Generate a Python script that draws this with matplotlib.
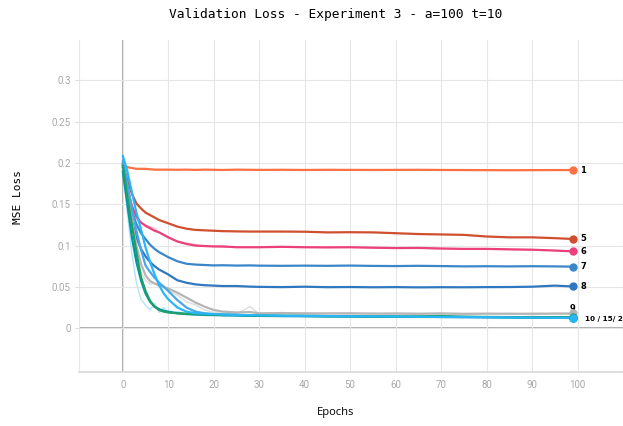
import matplotlib
matplotlib.use("Agg")
import matplotlib.pyplot as plt

# epochs at which the curves are sampled
epochs = [0, 1, 2, 3, 4, 5, 6, 7, 8, 9, 10, 12, 14, 16, 18, 20, 22, 25, 28, 30,
          35, 40, 45, 50, 55, 60, 65, 70, 75, 80, 85, 90, 95, 99]

run1 = [0.197, 0.195, 0.194, 0.193, 0.193, 0.193, 0.1925, 0.192, 0.192, 0.192, 0.192, 0.1918,
        0.192, 0.1917, 0.192, 0.1918, 0.1916, 0.192, 0.1918, 0.1917, 0.1918, 0.1916, 0.1918,
        0.1917, 0.1916, 0.1917, 0.1918, 0.1916, 0.1915, 0.1914, 0.1913, 0.1914, 0.1915, 0.1915]
run5 = [0.198, 0.180, 0.163, 0.151, 0.145, 0.140, 0.137, 0.134, 0.131, 0.129, 0.127, 0.123,
        0.1205, 0.119, 0.1185, 0.118, 0.1175, 0.1172, 0.117, 0.117, 0.117, 0.1168, 0.116, 0.1162,
        0.116, 0.115, 0.114, 0.1135, 0.113, 0.111, 0.110, 0.110, 0.109, 0.108]
run6 = [0.200, 0.170, 0.148, 0.135, 0.128, 0.124, 0.121, 0.118, 0.116, 0.113, 0.110, 0.105,
        0.102, 0.100, 0.0995, 0.099, 0.099, 0.098, 0.098, 0.098, 0.0985, 0.098, 0.0978, 0.098,
        0.0975, 0.097, 0.0972, 0.0965, 0.096, 0.096, 0.0955, 0.095, 0.094, 0.093]
run7 = [0.200, 0.168, 0.142, 0.126, 0.115, 0.108, 0.101, 0.096, 0.092, 0.089, 0.086, 0.081,
        0.078, 0.077, 0.0765, 0.076, 0.0762, 0.0758, 0.076, 0.0757, 0.0755, 0.0757, 0.0755,
        0.0758, 0.0754, 0.0752, 0.0755, 0.0752, 0.0748, 0.075, 0.0748, 0.075, 0.0748, 0.0745]
run8 = [0.195, 0.160, 0.130, 0.110, 0.096, 0.087, 0.080, 0.075, 0.071, 0.068, 0.065, 0.058,
        0.055, 0.053, 0.052, 0.0515, 0.051, 0.051, 0.0503, 0.050, 0.0497, 0.0502, 0.0496, 0.0498,
        0.0495, 0.0497, 0.0494, 0.0496, 0.0495, 0.0497, 0.0498, 0.0502, 0.0515, 0.0505]
run9 = [0.198, 0.165, 0.130, 0.100, 0.078, 0.064, 0.057, 0.054, 0.052, 0.050, 0.048, 0.043,
        0.037, 0.031, 0.026, 0.022, 0.020, 0.019, 0.0195, 0.018, 0.0182, 0.018, 0.0178, 0.018,
        0.0176, 0.0178, 0.0175, 0.0178, 0.0174, 0.0176, 0.0174, 0.0175, 0.0176, 0.0178]
run10 = [0.190, 0.150, 0.110, 0.080, 0.058, 0.042, 0.032, 0.026, 0.023, 0.021, 0.020, 0.018,
         0.017, 0.0165, 0.016, 0.0158, 0.0155, 0.0152, 0.015, 0.0148, 0.0146, 0.0145, 0.0143,
         0.0142, 0.014, 0.0138, 0.0136, 0.0135, 0.0134, 0.0132, 0.013, 0.0128, 0.0127, 0.0125]
run15 = [0.197, 0.160, 0.125, 0.092, 0.062, 0.045, 0.033, 0.026, 0.022, 0.020, 0.019, 0.018,
         0.0175, 0.017, 0.0168, 0.0165, 0.016, 0.016, 0.0155, 0.0152, 0.015, 0.0148, 0.0146,
         0.0145, 0.0142, 0.014, 0.0142, 0.0148, 0.0138, 0.0136, 0.0134, 0.0133, 0.0132, 0.013]
run20 = [0.209, 0.190, 0.165, 0.140, 0.120, 0.098, 0.080, 0.065, 0.052, 0.042, 0.035, 0.025,
         0.020, 0.018, 0.0175, 0.017, 0.0165, 0.016, 0.0158, 0.0155, 0.015, 0.0148, 0.0146,
         0.0144, 0.0142, 0.014, 0.0138, 0.0136, 0.0135, 0.0133, 0.013, 0.0128, 0.0126, 0.0122]
run_mid = [0.203, 0.175, 0.145, 0.118, 0.095, 0.076, 0.068, 0.061, 0.055, 0.050, 0.045, 0.034,
           0.025, 0.020, 0.018, 0.017, 0.0165, 0.016, 0.0155, 0.015, 0.0148, 0.0146, 0.0144,
           0.0142, 0.014, 0.0138, 0.0137, 0.0136, 0.0134, 0.0133, 0.0132, 0.013, 0.0129, 0.0128]

# unsmoothed raw curves, drawn faint behind the smoothed ones
raw_cyan = [0.200, 0.140, 0.090, 0.055, 0.035, 0.028, 0.022, 0.030, 0.019, 0.025, 0.018, 0.020,
            0.017, 0.018, 0.016, 0.017, 0.015, 0.016, 0.015, 0.016, 0.014, 0.015, 0.014, 0.015,
            0.013, 0.014, 0.014, 0.013, 0.014, 0.013, 0.013, 0.014, 0.013, 0.013]
raw_gray = [0.198, 0.150, 0.110, 0.085, 0.068, 0.058, 0.053, 0.055, 0.050, 0.052, 0.046, 0.040,
            0.032, 0.028, 0.022, 0.019, 0.018, 0.017, 0.026, 0.017, 0.019, 0.016, 0.018, 0.017,
            0.018, 0.016, 0.017, 0.018, 0.016, 0.017, 0.018, 0.016, 0.018, 0.017]
raw_pink = [0.200, 0.160, 0.140, 0.132, 0.128, 0.125, 0.123, 0.121, 0.116, 0.113, 0.110, 0.105,
            0.103, 0.101, 0.099, 0.099, 0.098, 0.098, 0.098, 0.098, 0.098, 0.098, 0.098, 0.098,
            0.097, 0.097, 0.097, 0.096, 0.096, 0.096, 0.095, 0.095, 0.094, 0.093]

fig = plt.figure(figsize=(6.23, 4.26), dpi=100)
ax = fig.add_axes([0.127, 0.127, 0.873, 0.779])

for raw, c in [(raw_cyan, "#b3e5fc"), (raw_gray, "#dddddd"), (raw_pink, "#f8bbd0")]:
    ax.plot(epochs, raw, color=c, lw=1.0, zorder=2)

series = [
    (run1, "#ff7043"), (run5, "#cf4f2e"), (run6, "#ec407a"), (run7, "#3a86c8"),
    (run8, "#2f78c0"), (run9, "#b5b5b5"), (run_mid, "#4aa6e6"), (run10, "#0097a7"),
    (run15, "#1e9e6a"), (run20, "#29b6f6"),
]
for vals, c in series:
    ax.plot(epochs, vals, color=c, lw=1.6, zorder=3, solid_capstyle="round")
    ax.plot(epochs[-1], vals[-1], "o", color=c, ms=5, zorder=4)

# run names next to the final points
lbl = dict(fontsize=6, fontweight="bold", color="black", va="center")
for name, vals in [("1", run1), ("5", run5), ("6", run6), ("7", run7), ("8", run8)]:
    ax.text(100.6, vals[-1], name, **lbl)
ax.text(99, 0.0235, "9", ha="center", **lbl)
ax.text(101.6, 0.0112, "10 / 15/ 20", **dict(lbl, fontsize=5.2))

ax.set_xlim(-9.6, 109.6)
ax.set_ylim(-0.053, 0.349)
ax.set_xticks(range(0, 101, 10))
ax.set_yticks([0, 0.05, 0.1, 0.15, 0.2, 0.25, 0.3])
ax.set_yticklabels(["0", "0.05", "0.1", "0.15", "0.2", "0.25", "0.3"])
ax.set_xticks([-9.6, 110], minor=True)
ax.grid(True, which="both", color="#e6e6e6", lw=0.8, zorder=0)
ax.axhline(0, color="#a0a0a0", lw=1.2, zorder=1)
ax.axvline(0, color="#a0a0a0", lw=1.2, zorder=1)

for side in ["top", "right", "left"]:
    ax.spines[side].set_visible(False)
ax.spines["bottom"].set_color("#d8d8d8")
ax.spines["bottom"].set_linewidth(1.2)
ax.tick_params(axis="x", length=0, pad=6, labelsize=7, labelcolor="#a8a8a8")
ax.tick_params(axis="x", which="minor", length=0)
ax.tick_params(axis="y", length=3, color="#dddddd", pad=3, labelsize=7, labelcolor="#a8a8a8")
for t in ax.get_xticklabels() + ax.get_yticklabels():
    t.set_family("Roboto")

fig.text(0.538, 0.967, "Validation Loss - Experiment 3 - a=100 t=10",
         family="DejaVu Sans Mono", fontsize=9.3, ha="center", va="center")
fig.text(0.029, 0.538, "MSE Loss", family="DejaVu Sans Mono", fontsize=8,
         rotation=90, ha="center", va="center")
fig.text(0.538, 0.031, "Epochs", family="Open Sans", fontsize=8, ha="center", va="center")

fig.savefig("out.png", dpi=100)
